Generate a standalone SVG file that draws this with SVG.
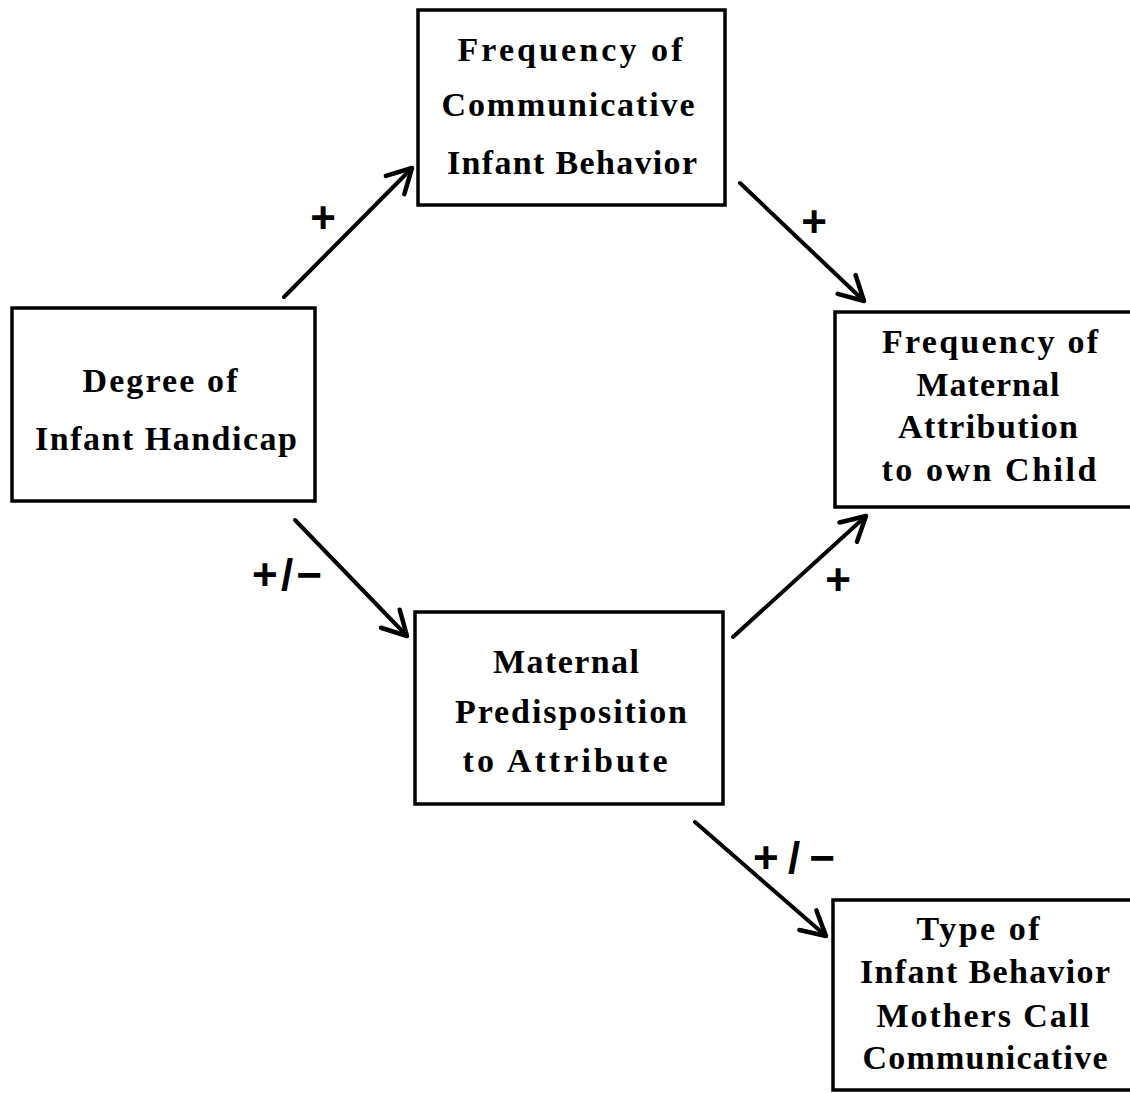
<svg xmlns="http://www.w3.org/2000/svg" width="1130" height="1093" viewBox="0 0 1130 1093">
  <style>
    .box { fill: #ffffff; stroke: #000000; stroke-width: 3.5; }
    .lbl { font-family: "Liberation Serif", "Times New Roman", serif; font-weight: bold; font-size: 34px; fill: #000000; text-anchor: middle; }
    .sign { font-family: "Liberation Sans", Arial, sans-serif; font-weight: bold; font-size: 44px; fill: #000000; text-anchor: middle; dominant-baseline: central; }
    .edge { fill: none; stroke: #000000; stroke-width: 4; stroke-linecap: round; }
  </style>
  <defs>
    <marker id="arrow" markerUnits="userSpaceOnUse" viewBox="-30 -18 34 36" refX="0" refY="0" markerWidth="34" markerHeight="36" orient="auto">
      <path d="M-24,-13 L0,0 L-24,13" fill="none" stroke="#000000" stroke-width="4.5" stroke-linecap="round" stroke-linejoin="round"/>
    </marker>
  </defs>
  <rect width="1130" height="1093" fill="#ffffff"/>

  <g id="connectors">
    <line class="edge" x1="284" y1="297" x2="412" y2="168" marker-end="url(#arrow)"/>
    <line class="edge" x1="740" y1="183" x2="864" y2="301" marker-end="url(#arrow)"/>
    <line class="edge" x1="295" y1="520" x2="407" y2="636" marker-end="url(#arrow)"/>
    <line class="edge" x1="733" y1="637" x2="866" y2="516" marker-end="url(#arrow)"/>
    <line class="edge" x1="695" y1="822" x2="826" y2="936" marker-end="url(#arrow)"/>
    <text class="sign" x="323" y="217">+</text>
    <text class="sign" x="814" y="221">+</text>
    <text class="sign" x="838" y="579">+</text>
    <text class="sign" x="287" y="574" textLength="70" lengthAdjust="spacing">+/−</text>
    <text class="sign" x="794" y="857" textLength="82" lengthAdjust="spacing">+/−</text>
  </g>

  <g id="node-communicative">
    <rect class="box" x="418" y="10" width="307" height="195"/>
    <text class="lbl" x="570" y="61" textLength="225" lengthAdjust="spacing">Frequency of</text>
    <text class="lbl" x="568" y="116" textLength="253" lengthAdjust="spacing">Communicative</text>
    <text class="lbl" x="572" y="174" textLength="250" lengthAdjust="spacing">Infant Behavior</text>
  </g>

  <g id="node-handicap">
    <rect class="box" x="12" y="308" width="303" height="193"/>
    <text class="lbl" x="160" y="392" textLength="155" lengthAdjust="spacing">Degree of</text>
    <text class="lbl" x="166" y="450" textLength="262" lengthAdjust="spacing">Infant Handicap</text>
  </g>

  <g id="node-attribution">
    <rect class="box" x="835" y="312" width="300" height="195"/>
    <text class="lbl" x="990" y="353" textLength="216" lengthAdjust="spacing">Frequency of</text>
    <text class="lbl" x="988" y="396" textLength="143" lengthAdjust="spacing">Maternal</text>
    <text class="lbl" x="988" y="438" textLength="180" lengthAdjust="spacing">Attribution</text>
    <text class="lbl" x="989" y="481" textLength="215" lengthAdjust="spacing">to own Child</text>
  </g>

  <g id="node-predisposition">
    <rect class="box" x="415" y="612" width="308" height="192"/>
    <text class="lbl" x="566" y="673" textLength="146" lengthAdjust="spacing">Maternal</text>
    <text class="lbl" x="571" y="723" textLength="232" lengthAdjust="spacing">Predisposition</text>
    <text class="lbl" x="565" y="772" textLength="205" lengthAdjust="spacing">to Attribute</text>
  </g>

  <g id="node-type">
    <rect class="box" x="833" y="900" width="302" height="190"/>
    <text class="lbl" x="978" y="940" textLength="123" lengthAdjust="spacing">Type of</text>
    <text class="lbl" x="985" y="983" textLength="250" lengthAdjust="spacing">Infant Behavior</text>
    <text class="lbl" x="983" y="1027" textLength="213" lengthAdjust="spacing">Mothers Call</text>
    <text class="lbl" x="985" y="1069" textLength="245" lengthAdjust="spacing">Communicative</text>
  </g>
</svg>
